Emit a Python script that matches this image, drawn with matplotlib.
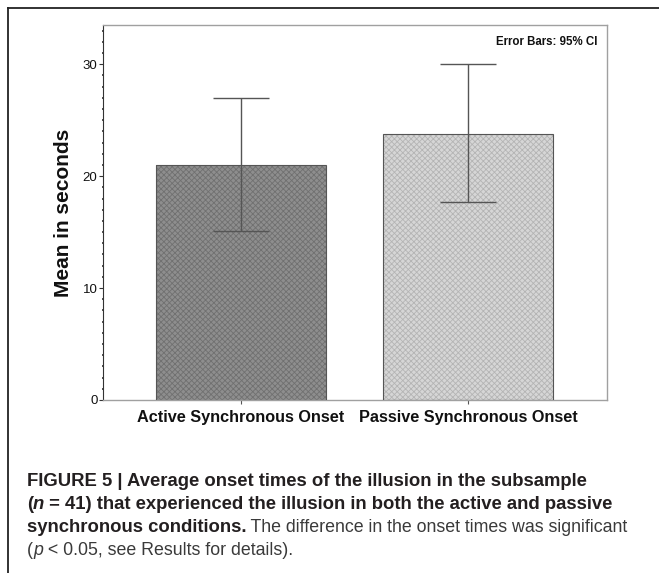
import matplotlib
matplotlib.use("Agg")
import matplotlib.pyplot as plt
from matplotlib.lines import Line2D
from matplotlib.ticker import MultipleLocator
import numpy as np

categories = ["Active Synchronous Onset", "Passive Synchronous Onset"]
means = [21.0, 23.8]
ci_low = [15.1, 17.7]
ci_high = [27.0, 30.05]
yticks = [0, 10, 20, 30]

W, H = 659, 573
fig = plt.figure(figsize=(W / 100, H / 100), dpi=100)
plt.rcParams['font.family'] = ['Liberation Sans', 'DejaVu Sans']
plt.rcParams['hatch.linewidth'] = 0.6

def fx(px):
    return px / W

def fy(py):
    return 1 - py / H

# outer frame (top & left)
fig.add_artist(Line2D([fx(8), fx(659)], [fy(8), fy(8)], color='#222222', lw=1.3))
fig.add_artist(Line2D([fx(8), fx(8)], [fy(8), fy(573)], color='#222222', lw=1.3))

ax = fig.add_axes([fx(103), fy(400), fx(607) - fx(103), fy(25) - fy(400)])
x = np.arange(len(categories))
fills = ['#8e8e8e', '#d6d6d6']
hatchcols = ['#707070', '#b4b4b4']
for i in range(len(categories)):
    ax.bar(x[i], means[i], width=0.75, color=fills[i], edgecolor=hatchcols[i],
           hatch='xxxxxx', linewidth=0, zorder=2)
    ax.bar(x[i], means[i], width=0.75, fill=False, edgecolor='#555555',
           linewidth=0.8, zorder=3)
m = np.array(means)
err = np.vstack([m - np.array(ci_low), np.array(ci_high) - m])
ax.errorbar(x, m, yerr=err, fmt='none', ecolor='#555555', elinewidth=1,
            capsize=20, capthick=1, zorder=4)

ax.set_xlim(-0.608, 1.612)
ax.set_ylim(0, 33.5)
ax.set_xticks(x)
ax.set_xticklabels(categories, fontsize=11.7, fontweight='bold', color='#111111')
ax.set_yticks(yticks)
ax.set_yticklabels([str(v) for v in yticks], fontsize=9.5, color='#111111')
ax.yaxis.set_minor_locator(MultipleLocator(1))
ax.tick_params(axis='y', which='major', length=3, width=0.8, color='#333333', pad=1)
ax.tick_params(axis='y', which='minor', length=2, width=1.2, color='#333333', direction='inout')
ax.tick_params(axis='x', which='major', length=3, width=0.8, color='#555555', pad=4)
ax.set_ylabel("Mean in seconds", fontsize=15, fontweight='bold', labelpad=7, color='#111111')

for s in ['top', 'right', 'bottom']:
    ax.spines[s].set_color('#a0a0a0')
    ax.spines[s].set_linewidth(1)
ax.spines['left'].set_color('#333333')
ax.spines['left'].set_linewidth(0.8)

ax.text(0.98, 0.955, "Error Bars: 95% CI", transform=ax.transAxes, ha='right', va='center',
        fontsize=8.3, fontweight='bold', color='#111111')

# caption with mixed styles
renderer = fig.canvas.get_renderer()
cap_lines = [
    [("FIGURE 5 | Average onset times of the illusion in the subsample", 'bold', 'normal', '#231f20')],
    [("(", 'bold', 'normal', '#231f20'), ("n", 'bold', 'italic', '#231f20'),
     (" = 41) that experienced the illusion in both the active and passive", 'bold', 'normal', '#231f20')],
    [("synchronous conditions.", 'bold', 'normal', '#231f20'),
     (" The difference in the onset times was significant", 'normal', 'normal', '#3a3a3a')],
    [("(", 'normal', 'normal', '#3a3a3a'), ("p", 'normal', 'italic', '#3a3a3a'),
     (" < 0.05, see Results for details).", 'normal', 'normal', '#3a3a3a')],
]
baselines = [486, 509, 532, 555]
sizes = {'bold': 13.3, 'normal': 12.8}
for line, yb in zip(cap_lines, baselines):
    xp = 27
    for txt, wt, st, col in line:
        t = fig.text(fx(xp), fy(yb), txt, fontsize=sizes[wt], fontweight=wt, fontstyle=st,
                     color=col, ha='left', va='baseline')
        bb = t.get_window_extent(renderer)
        xp += bb.width

fig.savefig("out.png", dpi=100)
